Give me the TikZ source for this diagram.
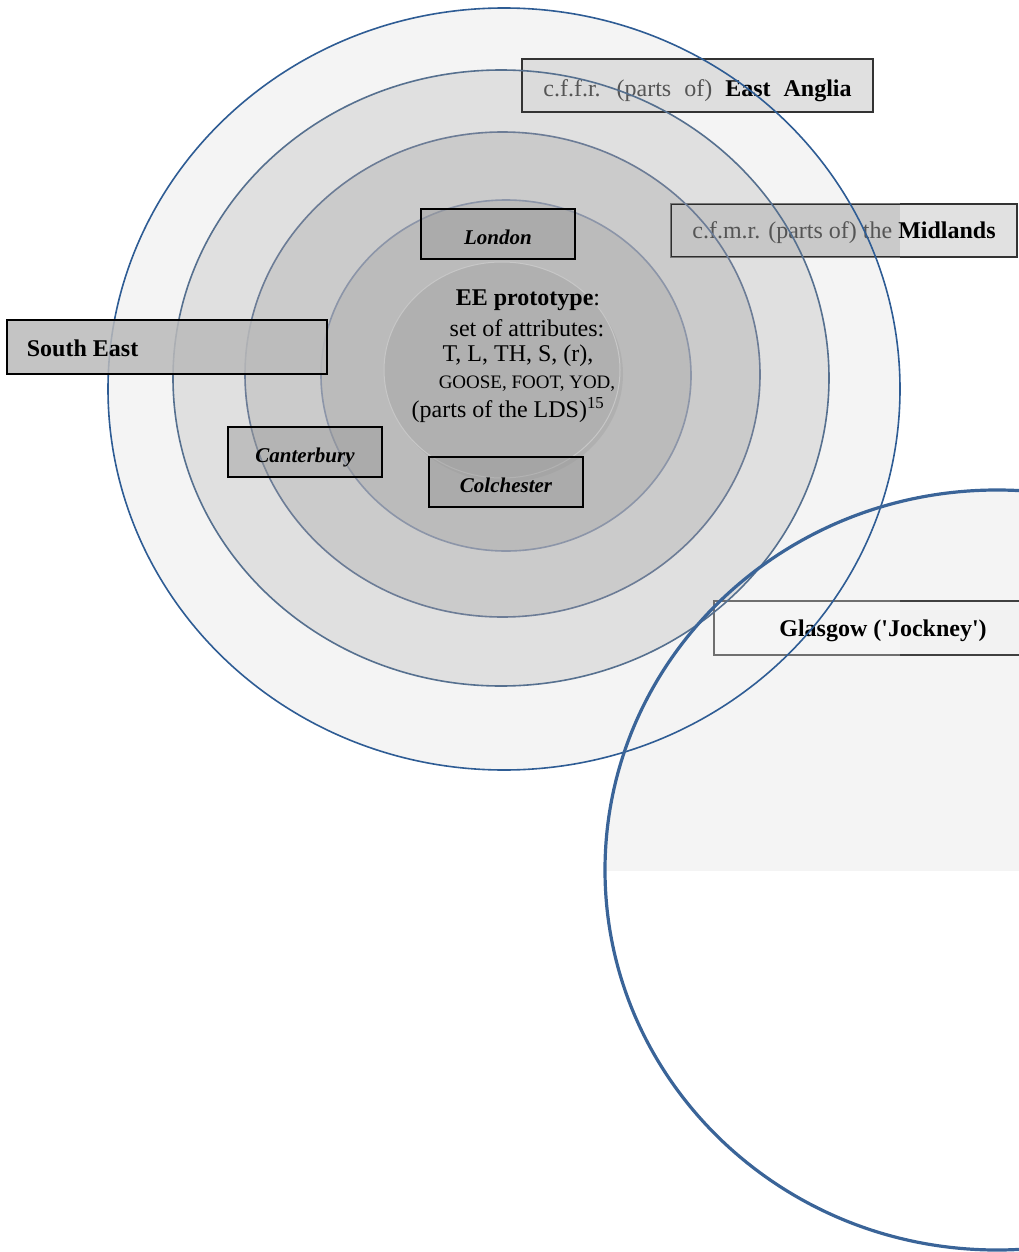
\documentclass[tikz,border=0pt]{standalone}
\usepackage{fontspec}
\setmainfont{Liberation Serif}
\newfontfamily\straightfont{Liberation Serif}[Ligatures=TeXOff]
\usetikzlibrary{shadows}
\definecolor{ring1}{HTML}{F4F4F4}
\definecolor{ring2}{HTML}{E0E0E0}
\definecolor{ring3}{HTML}{CBCBCB}
\definecolor{ring4}{HTML}{BBBBBB}
\definecolor{ring5}{HTML}{B0B0B0}
\definecolor{line1}{HTML}{2E5C94}
\definecolor{line2}{HTML}{56708F}
\definecolor{line3}{HTML}{6C7C96}
\definecolor{line4}{HTML}{8C95A8}
\definecolor{bigline}{HTML}{3A6498}
\definecolor{softtext}{HTML}{555555}
\tikzset{
  bigfont/.style={font=\fontsize{24}{28}\selectfont},
  smallcaps/.style={font=\fontsize{19}{22}\selectfont},
  citybox/.style={draw=black, line width=1.2pt, fill=black!40, fill opacity=0.45, text opacity=1,
    minimum width=154pt, minimum height=50pt, inner sep=0pt, text height=21pt, text depth=0pt,
    font=\fontsize{21}{24}\selectfont\bfseries\itshape},
  regionbox/.style={draw=black!80, line width=1.4pt, minimum height=53pt, inner sep=0pt, text opacity=1},
}
\begin{document}
\begin{tikzpicture}[x=1pt,y=-1pt]
\useasboundingbox (0,0) rectangle (1019,1252);
\clip (0,0) rectangle (1019,1252);
% big circle fill (upper part only)
\begin{scope}
  \clip (600,470) rectangle (1030,870);
  \fill[ring1] (997,870) ellipse [x radius=392pt, y radius=380pt];
\end{scope}
% concentric ellipse fills
\fill[ring1] (504,389) ellipse [x radius=396pt, y radius=381pt];
\fill[ring2] (501,378) ellipse [x radius=328pt, y radius=308pt];
\fill[ring3] (502.5,374.5) ellipse [x radius=257.5pt, y radius=242.5pt];
\fill[ring4] (506,375.5) ellipse [x radius=185pt, y radius=175.5pt];
\fill[ring5, drop shadow={opacity=0.18, shadow xshift=3pt, shadow yshift=-4pt}] (502,370) ellipse [x radius=118pt, y radius=108pt];
\draw[black!22, line width=1pt] (502,370) ellipse [x radius=118pt, y radius=108pt];

% right-side region boxes (under the outlines)
\coordinate (xr) at (900,0);
\node[regionbox, fill=black!14, fill opacity=0.85, minimum width=351pt, bigfont, text height=22pt, text depth=0pt] (ea) at (697.5,85.5)
  {\textcolor{softtext}{c.f.f.r.\hspace{8pt} (parts\hspace{7pt} of)}\hspace{7pt} \textbf{East}\hspace{7pt} \textbf{Anglia}};
\node[regionbox, fill=black!13, fill opacity=0.9, minimum width=346pt] (mid) at (844,230.5) {};
\fill[black, opacity=0.1] (mid.north west) rectangle (xr |- mid.south);
\draw[white, opacity=0.35, line width=1.4pt] (mid.north west) -- (xr |- mid.north) (mid.south west) -- (xr |- mid.south) (mid.north west) -- (mid.south west);
\node[bigfont, anchor=center] (midt) at ([yshift=-2pt]mid.center)
  {\textcolor{softtext}{c.f.m.r. (parts of) the} \textbf{Midlands}};
\node[regionbox, draw=black!75, line width=1.6pt, fill=black!5, fill opacity=0.9, minimum width=338pt, minimum height=54pt] (gl) at (883,628) {};
\fill[white, opacity=0.25] (gl.north west) rectangle (xr |- gl.south);
\node[font=\fontsize{24}{28}\straightfont\bfseries] (glt) at (883,631) {Glasgow ('Jockney')};

% outlines
\draw[line4, line width=1.6pt] (506,375.5) ellipse [x radius=185pt, y radius=175.5pt];
\draw[line3, line width=1.6pt] (502.5,374.5) ellipse [x radius=257.5pt, y radius=242.5pt];
\draw[line2, line width=1.6pt] (501,378) ellipse [x radius=328pt, y radius=308pt];
\draw[line1, line width=1.6pt] (504,389) ellipse [x radius=396pt, y radius=381pt];
\draw[bigline, line width=3.2pt] (997,870) ellipse [x radius=392pt, y radius=380pt];

% left-side boxes (over the outlines)
\node[regionbox, draw=black, line width=1.3pt, fill=black!27, fill opacity=0.85, minimum width=320pt, minimum height=54pt] (se) at (167,347) {};
\node[font=\fontsize{24}{28}\selectfont\bfseries, anchor=west] (set) at ([xshift=17pt,yshift=-1pt]se.west) {South East};
\node[citybox] (lon) at (498,234) {London};
\node[citybox] (can) at (305,452) {Canterbury};
\node[citybox] (col) at (506,482) {Colchester};

% prototype text
\node[bigfont] (p1) at (528,300) {\textbf{EE prototype}:};
\node[bigfont] (p2) at (527,328) {set of attributes:};
\node[bigfont] (p3) at (518,356) {T, L, TH, S, (r),};
\node[smallcaps] (p4) at (527,384) {GOOSE, FOOT, YOD,};
\node[bigfont] (p5) at (508,410) {(parts of the LDS)\textsuperscript{15}};
\end{tikzpicture}
\end{document}
